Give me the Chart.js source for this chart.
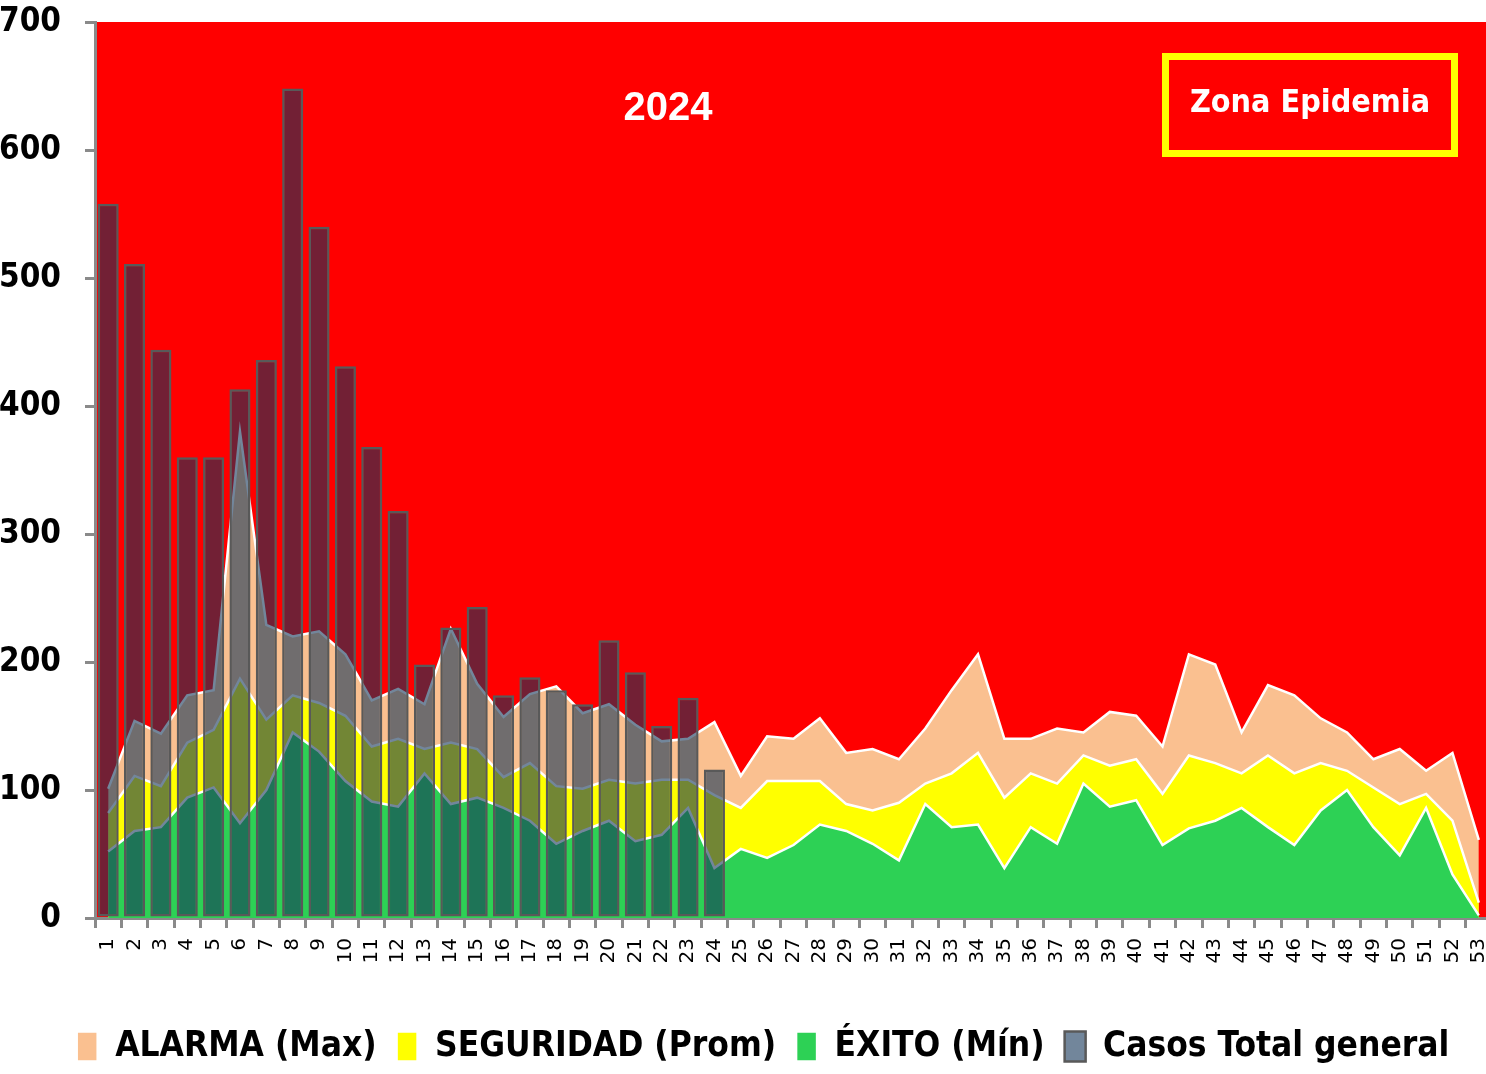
<!DOCTYPE html>
<html>
<head>
<meta charset="utf-8">
<script src="https://cdn.jsdelivr.net/npm/chart.js@4.4.1/dist/chart.umd.min.js"></script>
<style>
  html, body { margin: 0; padding: 0; background: #fff; overflow: hidden; }
  #wrap { position: relative; width: 1486px; height: 1074px; overflow: hidden; }
  #chart { position: absolute; left: 0; top: 0; }
  .year {
    position: absolute; left: 568px; top: 86px; width: 200px; text-align: center;
    font: bold 40px/40px 'Liberation Sans', Arial, sans-serif; color: #fff;
  }
  .zona {
    position: absolute; left: 1162px; top: 53px; width: 282px; height: 82px;
    border: 7px solid #ffff00; display: flex; align-items: center; justify-content: center;
    font: bold 32px/32px 'DejaVu Sans Condensed', 'DejaVu Sans', sans-serif; color: #fff;
    padding-bottom: 8px; white-space: nowrap;
  }
</style>
</head>
<body>
<div id="wrap">
  <canvas id="chart" width="1492" height="1074"></canvas>
  <div class="year">2024</div>
  <div class="zona">Zona Epidemia</div>
</div>
<script>
// --- Datos (semanas epidemiologicas) ---
const semanas = Array.from({ length: 53 }, (_, i) => String(i + 1));

const alarmaMax = [101, 154, 144, 174, 178, 380, 229, 220, 224, 206, 170, 179, 167, 226, 183, 157, 175, 181, 160, 167,
  151, 138, 140, 153, 111, 142, 140, 156, 129, 132, 124, 148, 178, 206, 140, 140, 148, 145, 161, 158,
  134, 206, 198, 145, 182, 174, 156, 145, 124, 132, 115, 129, 61];

const seguridadProm = [82, 111, 103, 137, 147, 187, 155, 174, 168, 158, 134, 140, 132, 137, 132, 110, 121, 103, 101, 108,
  105, 108, 108, 96, 86, 107, 107, 107, 89, 84, 90, 105, 113, 129, 94, 113, 105, 127, 119, 124,
  97, 127, 121, 113, 127, 113, 121, 115, 102, 89, 97, 76, 12];

const exitoMin = [52, 68, 71, 94, 102, 74, 100, 145, 130, 107, 91, 87, 113, 89, 94, 86, 76, 58, 68, 76,
  60, 65, 86, 39, 54, 47, 57, 73, 68, 58, 45, 89, 71, 73, 39, 71, 58, 105, 87, 92,
  57, 70, 76, 86, 71, 57, 84, 100, 71, 49, 86, 34, 2];

const casosTotal = [558, 511, 444, 360, 360, 413, 436, 648, 540, 431, 368, 318, 198, 227, 243, 174, 188, 178, 167, 217,
  192, 150, 172, 116];

const yTicks = [0, 100, 200, 300, 400, 500, 600, 700];

// --- Estilos ---
const cond = "'DejaVu Sans Condensed', 'DejaVu Sans', sans-serif";
const axisGrey = '#8a8a8a';

// fondo rojo de la zona epidemia
const zonaRoja = {
  id: 'zonaRoja',
  beforeDraw(chart) {
    const a = chart.chartArea, ctx = chart.ctx;
    ctx.save();
    ctx.fillStyle = '#ff0000';
    ctx.fillRect(a.left, a.top, a.right - a.left, a.bottom - a.top);
    ctx.restore();
  }
};

// la leyenda del original va un poco corrida a la derecha
const leyendaCorrida = {
  id: 'leyendaCorrida',
  afterLayout(chart) {
    chart.legend.left += 17;
    chart.legend.right += 17;
  }
};

function areaSet(label, data, color, order) {
  return {
    type: 'line', label, data, order,
    backgroundColor: color, borderColor: '#ffffff', borderWidth: 2.5,
    fill: 'origin', pointRadius: 0, tension: 0
  };
}

new Chart(document.getElementById('chart'), {
  type: 'bar',
  data: {
    labels: semanas,
    datasets: [
      areaSet('ALARMA (Max)', alarmaMax, '#fac090', 3),
      areaSet('SEGURIDAD (Prom)', seguridadProm, '#ffff00', 2),
      areaSet('ÉXITO (Mín)', exitoMin, '#2dd155', 1),
      {
        type: 'bar', label: 'Casos Total general', data: casosTotal, order: 0,
        backgroundColor: 'rgba(20,53,88,0.6)', borderColor: '#595959', borderWidth: 2.5,
        borderSkipped: false, categoryPercentage: 0.8, barPercentage: 1
      }
    ]
  },
  options: {
    responsive: false,
    animation: false,
    layout: { padding: { top: 0, left: 0, right: 0, bottom: 0 } },
    plugins: {
      tooltip: { enabled: false },
      legend: {
        position: 'bottom',
        labels: {
          color: '#000',
          font: { family: cond, size: 35, weight: 'bold' },
          boxWidth: 21, boxHeight: 30, padding: 20,
          sort: (a, b) => a.datasetIndex - b.datasetIndex
        }
      }
    },
    scales: {
      x: {
        z: 1,
        offset: true,
        grid: { drawOnChartArea: false, drawTicks: true, tickLength: 10, color: axisGrey, lineWidth: 3, offset: true },
        border: { color: axisGrey, width: 3 },
        ticks: {
          color: '#000', autoSkip: false, minRotation: 90, maxRotation: 90, padding: 10,
          font: { family: "'DejaVu Sans', sans-serif", size: 20 }
        },
        afterFit(s) { s.paddingLeft = 0; s.paddingRight = 0; s.height = 91; }
      },
      y: {
        z: 1,
        min: 0, max: 700,
        afterBuildTicks(s) { s.ticks = yTicks.map(v => ({ value: v })); },
        grid: { drawOnChartArea: false, drawTicks: true, tickLength: 10, color: axisGrey, lineWidth: 3 },
        border: { color: axisGrey, width: 3 },
        ticks: {
          color: '#000', padding: 24,
          font: { family: cond, size: 33, weight: 'bold', lineHeight: 1 }
        },
        afterFit(s) { s.width = 95; s.paddingTop = 22; s.paddingBottom = 0; }
      }
    }
  },
  plugins: [zonaRoja, leyendaCorrida]
});
</script>
</body>
</html>
